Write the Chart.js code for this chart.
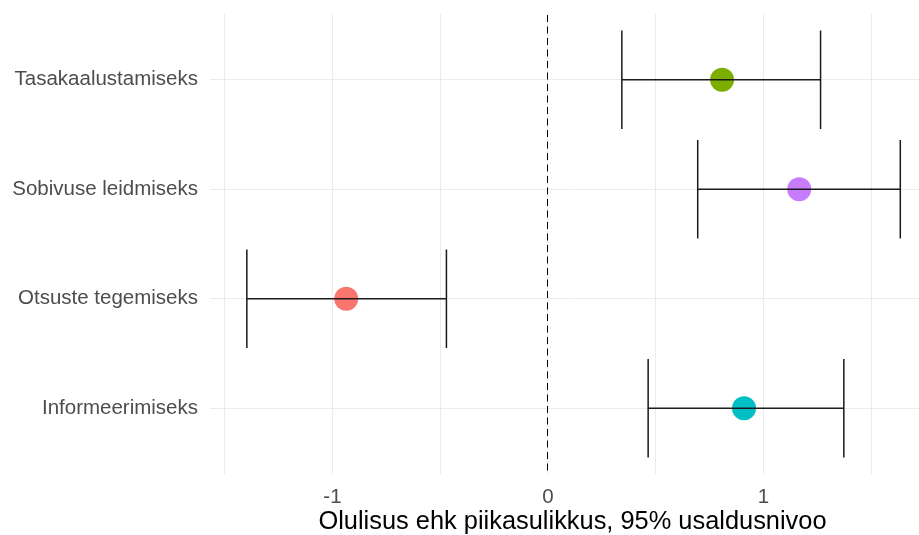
<!DOCTYPE html>
<html>
<head>
<meta charset="utf-8">
<script src="https://cdn.jsdelivr.net/npm/chart.js@4"></script>
<style>
  html, body { margin: 0; padding: 0; background: #ffffff; overflow: hidden; }
  #wrap { width: 919px; height: 535px; overflow: hidden; }
</style>
</head>
<body>
<div id="wrap"><canvas id="c" width="947" height="535"></canvas></div>
<script>
// Categories, bottom to top
const categories = ['Informeerimiseks', 'Otsuste tegemiseks', 'Sobivuse leidmiseks', 'Tasakaalustamiseks'];
// Point estimates and 95% confidence bounds
const estimates = [0.910, -0.936, 1.166, 0.808];
const lowerCI   = [0.465, -1.397, 0.695, 0.343];
const upperCI   = [1.373, -0.471, 1.635, 1.265];
const pointColors = ['#00BFC4', '#F8766D', '#C77CFF', '#7CAE00'];
// Grid positions on the x axis and the labels shown
const xGridValues = [-1.5, -1, -0.5, 0, 0.5, 1, 1.5];
const xTickLabels = { '-1': '-1', '0': '0', '1': '1' };
const xAxisTitle = 'Olulisus ehk piikasulikkus, 95% usaldusnivoo';

const FONT = "'Liberation Sans', Arial, sans-serif";

function noEdgePadding(s) {
  s.paddingTop = 0; s.paddingBottom = 0; s.paddingLeft = 0; s.paddingRight = 0;
}

// Error bars with caps, plus the dashed reference line at zero
const intervalPlugin = {
  id: 'intervals',
  beforeDatasetsDraw(chart) {
    const { ctx, chartArea, scales: { x } } = chart;
    const px = Math.round(x.getPixelForValue(0)) - 0.5;
    ctx.save();
    ctx.strokeStyle = '#000000';
    ctx.lineWidth = 1;
    ctx.setLineDash([7, 4.5]);
    ctx.beginPath();
    ctx.moveTo(px, chartArea.top + 1);
    ctx.lineTo(px, chartArea.bottom);
    ctx.stroke();
    ctx.restore();
  },
  afterDatasetsDraw(chart) {
    const { ctx, scales: { x, y } } = chart;
    ctx.save();
    ctx.strokeStyle = '#1a1a1a';
    ctx.lineWidth = 1.5;
    categories.forEach((c, i) => {
      const yc = y.getPixelForValue(i + 1);
      const yTop = y.getPixelForValue(i + 1 + 0.45);
      const yBot = y.getPixelForValue(i + 1 - 0.45);
      const xl = x.getPixelForValue(lowerCI[i]);
      const xr = x.getPixelForValue(upperCI[i]);
      ctx.beginPath();
      ctx.moveTo(xl, yc); ctx.lineTo(xr, yc);
      ctx.moveTo(xl, yTop); ctx.lineTo(xl, yBot);
      ctx.moveTo(xr, yTop); ctx.lineTo(xr, yBot);
      ctx.stroke();
    });
    ctx.restore();
  }
};

new Chart(document.getElementById('c'), {
  type: 'scatter',
  data: {
    datasets: [{
      data: categories.map((c, i) => ({ x: estimates[i], y: i + 1 })),
      backgroundColor: pointColors,
      borderWidth: 0,
      pointRadius: 12,
      pointHoverRadius: 12
    }]
  },
  options: {
    responsive: false,
    animation: false,
    layout: { padding: { top: 14, right: 0, bottom: 0, left: 0 } },
    plugins: { legend: { display: false }, tooltip: { enabled: false } },
    scales: {
      x: {
        type: 'linear',
        min: -1.568,
        max: 1.796,
        afterBuildTicks: s => { s.ticks = xGridValues.map(v => ({ value: v })); },
        afterFit: s => { s.height = 61; noEdgePadding(s); },
        grid: { color: '#ebebeb', lineWidth: 1, drawTicks: false },
        border: { display: false },
        ticks: {
          padding: 11,
          color: '#4d4d4d',
          font: { family: FONT, size: 20.5 },
          callback: v => xTickLabels[String(v)] || ''
        },
        title: {
          display: true,
          text: xAxisTitle,
          color: '#000000',
          font: { family: FONT, size: 25.4, lineHeight: 1 },
          padding: 0
        }
      },
      y: {
        type: 'linear',
        min: 0.4,
        max: 4.6,
        afterBuildTicks: s => { s.ticks = categories.map((c, i) => ({ value: i + 1 })); },
        afterFit: s => { s.width = 210; noEdgePadding(s); },
        grid: { color: '#ebebeb', lineWidth: 1, drawTicks: false },
        border: { display: false },
        ticks: {
          padding: 12,
          color: '#4d4d4d',
          font: { family: FONT, size: 20.5 },
          callback: v => categories[v - 1] || ''
        }
      }
    }
  },
  plugins: [intervalPlugin]
});
</script>
</body>
</html>
